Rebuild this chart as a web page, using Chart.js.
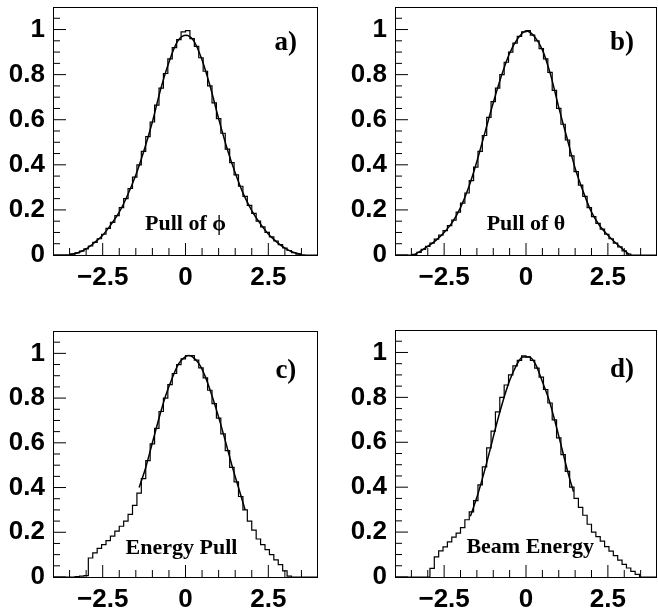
<!DOCTYPE html>
<html>
<head>
<meta charset="utf-8">
<script src="https://cdn.jsdelivr.net/npm/chart.js@4.4.0/dist/chart.umd.min.js"></script>
<style>
body{margin:0;background:#fff;}
#wrap{position:relative;width:658px;height:612px;}
canvas{position:absolute;}
</style>
</head>
<body>
<div id="wrap">
<canvas id="pa" width="329" height="300" style="left:0;top:0"></canvas>
<canvas id="pb" width="329" height="300" style="left:329px;top:0"></canvas>
<canvas id="pc" width="329" height="312" style="left:0;top:300px"></canvas>
<canvas id="pd" width="329" height="312" style="left:329px;top:300px"></canvas>
</div>
<script>
// histogram binning: 60 bins from -4 to 4
var binLow = -4, binHigh = 4, nBins = 60;

// bin contents, left to right
var histA = [0,0,0,0.001,0.004,0.009,0.017,0.027,0.04,0.056,
  0.072,0.092,0.118,0.145,0.175,0.21,0.25,0.295,0.345,0.40,
  0.46,0.525,0.59,0.665,0.74,0.805,0.87,0.92,0.955,0.99,
  0.995,0.96,0.925,0.875,0.815,0.75,0.675,0.605,0.54,0.47,
  0.41,0.355,0.305,0.26,0.22,0.185,0.15,0.125,0.1,0.08,
  0.062,0.046,0.031,0.02,0.01,0.004,0.001,0,0,0];
var histB = [0,0,0,0,0.003,0.012,0.025,0.038,0.053,0.07,
  0.088,0.108,0.13,0.155,0.19,0.23,0.275,0.33,0.39,0.46,
  0.53,0.61,0.68,0.74,0.80,0.855,0.90,0.94,0.97,0.99,
  0.995,0.975,0.95,0.915,0.87,0.81,0.73,0.65,0.58,0.51,
  0.44,0.37,0.31,0.26,0.21,0.17,0.14,0.115,0.092,0.072,
  0.053,0.036,0.018,0.004,0,0,0,0,0,0];
var histC = [0,0,0,0,0,0.002,0.004,0.006,0.085,0.108,
  0.128,0.145,0.163,0.183,0.205,0.227,0.25,0.28,0.32,0.375,
  0.44,0.52,0.595,0.665,0.74,0.80,0.86,0.91,0.95,0.975,
  0.99,0.99,0.97,0.935,0.89,0.835,0.775,0.71,0.64,0.565,
  0.49,0.425,0.36,0.30,0.25,0.21,0.17,0.145,0.122,0.10,
  0.077,0.055,0.027,0.004,0,0,0,0,0,0];
var histD = [0,0,0,0,0,0,0,0,0.038,0.09,
  0.116,0.134,0.156,0.178,0.195,0.22,0.255,0.29,0.34,0.41,
  0.49,0.575,0.65,0.735,0.80,0.855,0.90,0.94,0.965,0.985,
  0.98,0.965,0.93,0.89,0.835,0.775,0.70,0.62,0.545,0.47,
  0.40,0.35,0.31,0.275,0.235,0.20,0.18,0.16,0.135,0.115,
  0.095,0.075,0.056,0.04,0.025,0.012,0,0,0,0];

// fitted curves, sampled
var fitAx = [-3.5,-3.25,-3,-2.75,-2.5,-2.25,-2,-1.75,-1.5,-1.25,-1,-0.75,-0.5,-0.25,0,0.25,0.5,0.75,1,1.25,1.5,1.75,2,2.25,2.5,2.75,3,3.25,3.5];
var fitAy = [0.002,0.01,0.027,0.055,0.088,0.135,0.19,0.265,0.355,0.465,0.59,0.735,0.855,0.945,0.975,0.95,0.865,0.745,0.605,0.475,0.365,0.27,0.197,0.14,0.093,0.058,0.03,0.012,0.003];
var fitBx = [-3.4,-3.25,-3,-2.75,-2.5,-2.25,-2,-1.75,-1.5,-1.25,-1,-0.75,-0.5,-0.25,0,0.25,0.5,0.75,1,1.25,1.5,1.75,2,2.25,2.5,2.75,3,3.15];
var fitBy = [0.002,0.015,0.038,0.065,0.1,0.145,0.21,0.3,0.415,0.545,0.675,0.795,0.895,0.96,0.993,0.97,0.91,0.8,0.655,0.52,0.385,0.28,0.19,0.13,0.088,0.052,0.02,0.003];
var fitCx = [-1.4,-1.2,-1,-0.8,-0.6,-0.4,-0.2,0,0.1,0.2,0.4,0.6,0.8,1,1.2,1.4,1.6,1.8];
var fitCy = [0.40,0.49,0.60,0.71,0.81,0.89,0.955,0.985,0.99,0.985,0.955,0.895,0.81,0.715,0.61,0.50,0.40,0.30];
var fitDx = [-1.7,-1.5,-1.3,-1.1,-0.9,-0.7,-0.5,-0.3,-0.1,0.1,0.3,0.5,0.7,0.9,1.1,1.3,1.45];
var fitDy = [0.27,0.355,0.455,0.565,0.68,0.785,0.875,0.94,0.98,0.98,0.945,0.87,0.79,0.685,0.57,0.455,0.38];

// axes
var xTickValues = [-2.5, 0, 2.5];
var yTickValues = [0, 0.2, 0.4, 0.6, 0.8, 1];
var xMinor = [-3.5,-3,-2,-1.5,-1,-0.5,0.5,1,1.5,2,3,3.5];
var yMinor = [0.05,0.1,0.15,0.25,0.3,0.35,0.45,0.5,0.55,0.65,0.7,0.75,0.85,0.9,0.95,1.05];

function histPoints(h) {
  var w = (binHigh - binLow) / nBins;
  var pts = [];
  for (var k = 0; k < h.length; k++) pts.push({x: binLow + k * w, y: h[k]});
  pts.push({x: binHigh, y: h[h.length - 1]});
  return pts;
}
function curvePoints(xs, ys) {
  return xs.map(function(x, i){ return {x: x, y: ys[i]}; });
}

var decor = {
  id: 'decor',
  afterDatasetsDraw: function(chart, args, opts) {
    var ctx = chart.ctx, a = chart.chartArea;
    var xs = chart.scales.x, ys = chart.scales.y;
    ctx.save();
    ctx.strokeStyle = '#000';
    ctx.lineWidth = 1;
    ctx.strokeRect(a.left + 0.5, a.top + 0.5, a.right - a.left - 1, a.bottom - a.top);
    ctx.beginPath();
    xTickValues.forEach(function(v){ var p = xs.getPixelForValue(v); ctx.moveTo(p, a.bottom); ctx.lineTo(p, a.bottom - 12); });
    xMinor.forEach(function(v){ var p = xs.getPixelForValue(v); ctx.moveTo(p, a.bottom); ctx.lineTo(p, a.bottom - 7); });
    yTickValues.forEach(function(v){ var p = ys.getPixelForValue(v); ctx.moveTo(a.left, p); ctx.lineTo(a.left + 13, p); });
    yMinor.forEach(function(v){ var p = ys.getPixelForValue(v); ctx.moveTo(a.left, p); ctx.lineTo(a.left + 7, p); });
    ctx.stroke();
    ctx.fillStyle = '#000';
    ctx.textAlign = 'center';
    ctx.textBaseline = 'middle';
    opts.labels.forEach(function(l){
      ctx.font = l.font;
      ctx.fillText(l.text, xs.getPixelForValue(l.x), ys.getPixelForValue(l.y));
    });
    ctx.restore();
  }
};

var tickFont = {family: '"Liberation Sans", Arial, sans-serif', weight: 'bold', size: 26};
var tagFont = 'bold 27px "Liberation Serif", "Times New Roman", serif';
var nameFont = 'bold 22px "Liberation Serif", "Times New Roman", serif';

function makePanel(id, hist, fx, fy, tag, tagX, tagY, name, nameX, nameY, lay) {
  new Chart(document.getElementById(id), {
    type: 'line',
    data: {
      datasets: [
        {data: histPoints(hist), stepped: 'before', borderColor: '#000', borderWidth: 1.2, pointRadius: 0, fill: false},
        {data: curvePoints(fx, fy), borderColor: '#000', borderWidth: 1.5, pointRadius: 0, fill: false, cubicInterpolationMode: 'monotone'}
      ]
    },
    options: {
      responsive: false,
      animation: false,
      events: [],
      layout: {padding: {top: lay.top, right: lay.right, left: 0, bottom: 0}},
      plugins: {
        legend: {display: false},
        tooltip: {enabled: false},
        decor: {labels: [
          {text: tag, x: tagX, y: tagY, font: tagFont},
          {text: name, x: nameX, y: nameY, font: nameFont}
        ]}
      },
      scales: {
        x: {
          type: 'linear', min: binLow, max: binHigh,
          afterBuildTicks: function(s){ s.ticks = xTickValues.map(function(v){ return {value: v}; }); },
          afterFit: function(s){ s.height = lay.xh; s.paddingLeft = 0; s.paddingRight = 0; },
          grid: {display: false, drawTicks: false},
          border: {display: false},
          ticks: {
            font: tickFont, color: '#000', padding: 7, maxRotation: 0, autoSkip: false,
            callback: function(v){ return v < 0 ? '\u2212' + Math.abs(v) : String(v); }
          }
        },
        y: {
          min: 0, max: 1.1,
          afterBuildTicks: function(s){ s.ticks = yTickValues.map(function(v){ return {value: v}; }); },
          afterFit: function(s){ s.width = lay.yw; s.paddingTop = 0; s.paddingBottom = 0; },
          grid: {display: false, drawTicks: false},
          border: {display: false},
          ticks: {
            font: tickFont, color: '#000', padding: 8,
            callback: function(v){ return String(v); }
          }
        }
      }
    },
    plugins: [decor]
  });
}

makePanel('pa', histA, fitAx, fitAy, 'a)', 3.03, 0.94, 'Pull of \u03d5', 0, 0.134, {top: 7, right: 11, yw: 53, xh: 45});
makePanel('pb', histB, fitBx, fitBy, 'b)', 2.93, 0.94, 'Pull of \u03b8', 0, 0.134, {top: 7, right: 1, yw: 66, xh: 45});
makePanel('pc', histC, fitCx, fitCy, 'c)', 3.03, 0.92, 'Energy Pull', -0.12, 0.13, {top: 31, right: 11, yw: 53, xh: 35});
makePanel('pd', histD, fitDx, fitDy, 'd)', 2.93, 0.92, 'Beam Energy', 0.13, 0.13, {top: 30, right: 1, yw: 66, xh: 35});
</script>
</body>
</html>
